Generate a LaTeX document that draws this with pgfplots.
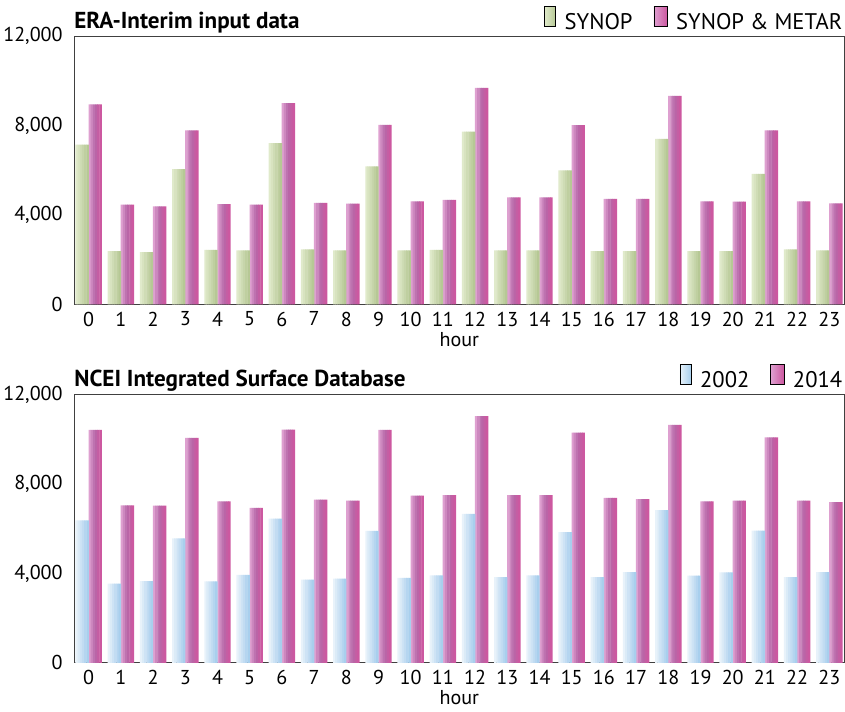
\documentclass[border=0pt]{standalone}
\usepackage{pgfplots}
\pgfplotsset{compat=1.18}
\usepackage{fontspec}
\setmainfont{PT Sans}

\definecolor{axisgray}{HTML}{404040}
% horizontal gradients, drawn as six strips per bar
\definecolor{g0}{RGB}{224,234,203}
\definecolor{g1}{RGB}{216,227,192}
\definecolor{g2}{RGB}{207,220,181}
\definecolor{g3}{RGB}{199,213,171}
\definecolor{g4}{RGB}{191,207,160}
\definecolor{g5}{RGB}{182,200,149}
\definecolor{b0}{RGB}{232,242,250}
\definecolor{b1}{RGB}{219,235,247}
\definecolor{b2}{RGB}{206,227,245}
\definecolor{b3}{RGB}{194,220,242}
\definecolor{b4}{RGB}{181,213,240}
\definecolor{b5}{RGB}{168,207,237}
\definecolor{p0}{RGB}{222,160,208}
\definecolor{p1}{RGB}{205,136,191}
\definecolor{p2}{RGB}{190,115,176}
\definecolor{p3}{RGB}{186,101,167}
\definecolor{p4}{RGB}{196,94,163}
\definecolor{p5}{RGB}{204,88,160}

% hourly counts
\pgfplotstableread{
h synop metar
0  7150 8950
1  2380 4460
2  2340 4380
3  6050 7780
4  2440 4480
5  2410 4460
6  7210 9000
7  2460 4540
8  2410 4510
9  6170 8030
10 2410 4610
11 2430 4670
12 7730 9690
13 2410 4790
14 2410 4790
15 5990 8020
16 2380 4720
17 2380 4720
18 7400 9330
19 2380 4610
20 2380 4600
21 5840 7780
22 2460 4610
23 2410 4520
}\eratable

\pgfplotstableread{
h y2002 y2014
0  6380 10430
1  3540 7050
2  3660 7030
3  5570 10070
4  3650 7230
5  3930 6930
6  6450 10440
7  3720 7300
8  3770 7260
9  5900 10430
10 3800 7480
11 3910 7510
12 6660 11040
13 3840 7500
14 3910 7510
15 5850 10300
16 3840 7380
17 4060 7330
18 6830 10650
19 3900 7230
20 4050 7260
21 5920 10090
22 3840 7260
23 4060 7190
}\nceitable

\pgfplotsset{
  hourbars/.style={
    scale only axis,
    width=767pt, height=267pt,
    xmin=-0.45, xmax=23.47,
    ymin=0, ymax=12000,
    ytick={0,4000,8000,12000},
    xtick={0,...,23},
    major tick length=0pt,
    scaled y ticks=false,
    clip=false,
    /pgf/number format/1000 sep={,},
    /pgf/number format/assume math mode=true,
    axis line style={axisgray, line width=1.1pt},
    ticklabel style={font=\fontsize{20}{23}\selectfont},
    yticklabel style={xshift=-8pt},
    xticklabel style={yshift=-4pt},
    xlabel={hour},
    xlabel style={font=\fontsize{20}{23}\selectfont, yshift=1pt},
    legend columns=2,
    legend style={at={(rel axis cs:1,1)}, anchor=south east, draw=none, fill=none,
      font=\fontsize{22.5}{25}\selectfont, inner sep=0pt, yshift=3pt,
      /tikz/every even column/.append style={column sep=19pt}},
  },
  strip/.style={ybar, forget plot, draw=none, bar width=2.5pt, bar shift={#1}},
  greenkey/.style={legend image code/.code={\fill[left color=g0, right color=g5] (0pt,-4pt) rectangle (11pt,16pt); \path (18pt,0pt);}},
  bluekey/.style={legend image code/.code={\fill[left color=b0, right color=b5] (0pt,-4pt) rectangle (11pt,16pt); \path (18pt,0pt);}},
  pinkkey/.style={legend image code/.code={\fill[left color=p0, right color=p5] (0pt,-4pt) rectangle (13pt,16pt); \path (20pt,0pt);}},
}

\begin{document}
\begin{tikzpicture}
\begin{axis}[hourbars]
\pgfplotsinvokeforeach{0,...,5}{
  \addplot[strip={-11.917pt+#1*2.1667pt}, fill=g#1] table[x=h, y=synop] {\eratable};
  \addplot[strip={1.083pt+#1*2.1667pt}, fill=p#1] table[x=h, y=metar] {\eratable};
}
\addlegendimage{greenkey}
\addlegendentry{SYNOP}
\addlegendimage{pinkkey}
\addlegendentry{SYNOP \& METAR}
\node[anchor=base west, inner sep=0pt, font=\fontsize{23}{26}\selectfont\bfseries] at (rel axis cs:0,1) [yshift=8pt] {ERA-Interim input data};
\path (rel axis cs:0.5,1) ++(0pt,36pt);
\end{axis}

\begin{axis}[hourbars, yshift=-357pt]
\pgfplotsinvokeforeach{0,...,5}{
  \addplot[strip={-11.917pt+#1*2.1667pt}, fill=b#1] table[x=h, y=y2002] {\nceitable};
  \addplot[strip={1.083pt+#1*2.1667pt}, fill=p#1] table[x=h, y=y2014] {\nceitable};
}
\addlegendimage{bluekey}
\addlegendentry{2002}
\addlegendimage{pinkkey}
\addlegendentry{2014}
\node[anchor=base west, inner sep=0pt, font=\fontsize{23}{26}\selectfont\bfseries] at (rel axis cs:0,1) [yshift=8pt] {NCEI Integrated Surface Database};
\path (rel axis cs:0.5,0) ++(0pt,-48pt);
\end{axis}
\end{tikzpicture}
\end{document}
